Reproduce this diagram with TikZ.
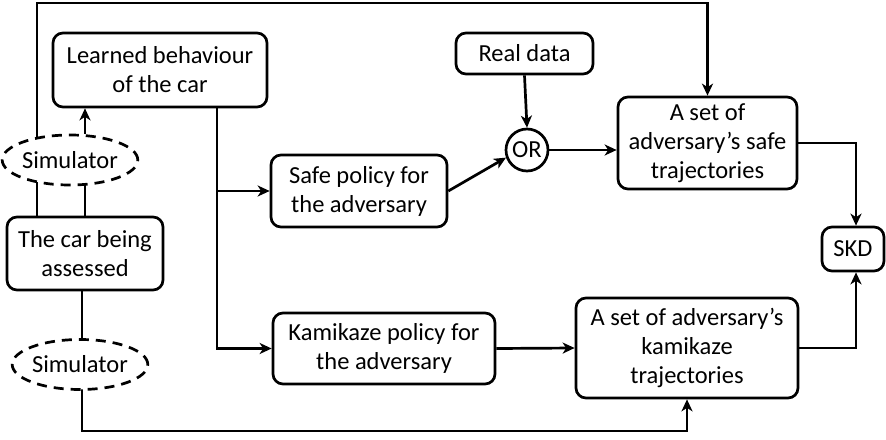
\documentclass[tikz,border=0pt]{standalone}
\usepackage{fontspec}
\setmainfont{Carlito}
\usetikzlibrary{shapes.geometric,arrows.meta,calc}
\tikzset{
  box/.style={draw,rounded corners=10pt,line width=2.7pt,align=center,inner sep=0pt,fill=white},
  sim/.style={draw,ellipse,dash pattern=on 10pt off 7pt,line width=2.7pt,inner sep=0pt,fill=white,minimum width=116pt,minimum height=50pt},
  conn/.style={line width=2.7pt},
  arr/.style={conn,-{Stealth[length=12pt,width=11pt,inset=3.5pt]}},
}
\begin{document}
\begin{tikzpicture}[x=1pt,y=-1pt,font=\fontsize{24.5}{29}\selectfont]
\useasboundingbox[fill=white] (0,0) rectangle (886,439);
\node[box,minimum width=214pt,minimum height=74pt] (learned) at (160,70) {Learned behaviour\\of the car};
\node[box,minimum width=156pt,minimum height=73pt] (car) at (85,253.5) {The car being\\assessed};
\node[box,minimum width=176pt,minimum height=72pt] (safepol) at (359,191) {Safe policy for\\the adversary};
\node[box,minimum width=222pt,minimum height=71pt] (kampol) at (384,348.5) {Kamikaze policy for\\the adversary};
\node[box,minimum width=137pt,minimum height=41pt] (real) at (524.5,53.5) {Real data};
\node[draw,circle,line width=2.7pt,minimum size=42pt,inner sep=0pt,fill=white] (or) at (527,150) {OR};
\node[box,minimum width=179pt,minimum height=92pt] (safe) at (707.5,143) {A set of\\adversary’s safe\\trajectories};
\node[box,minimum width=222pt,minimum height=100pt] (kamset) at (687,348) {A set of adversary’s\\kamikaze\\trajectories};
\node[box,minimum width=62pt,minimum height=44pt] (skd) at (853,249) {SKD};
\coordinate (tl) at (37,3);
\coordinate (lv) at (217,107);
\coordinate (bl) at (82,431);
% connectors behind the simulators
\draw[arr] ([xshift=-48pt]car.north) -- (tl) -| (safe.north);
\draw[conn] (car.north) -- ++(0,-40);
\draw[conn] ([xshift=-3pt]car.south) -- ++(0,50);
\draw[arr] ([xshift=-3pt]car.south |- bl) ++(0,-50) -- (bl) -| (kamset.south);
\node[sim] (simtop) at (70,160) {Simulator};
\node[sim] (simbot) at (80,364.5) {Simulator};
\draw[arr] (simtop.north -| car.north) -- (learned.south -| car.north);
% main flow
\draw[arr] (learned.south -| lv) -- (lv |- kampol.west) -- (kampol.west);
\draw[arr] (lv |- safepol.west) -- (safepol.west);
\draw[arr] (safepol.east) -- (or.200);
\draw[arr] (real.south) -- (or.north);
\draw[arr] (or.east) -- (or.east -| safe.west);
\draw[arr] (safe.east) -| ([xshift=3pt]skd.north);
\draw[arr] (kampol.east) -- (kamset.west);
\draw[arr] (kamset.east) -| ([xshift=3pt]skd.south);
\end{tikzpicture}
\end{document}
